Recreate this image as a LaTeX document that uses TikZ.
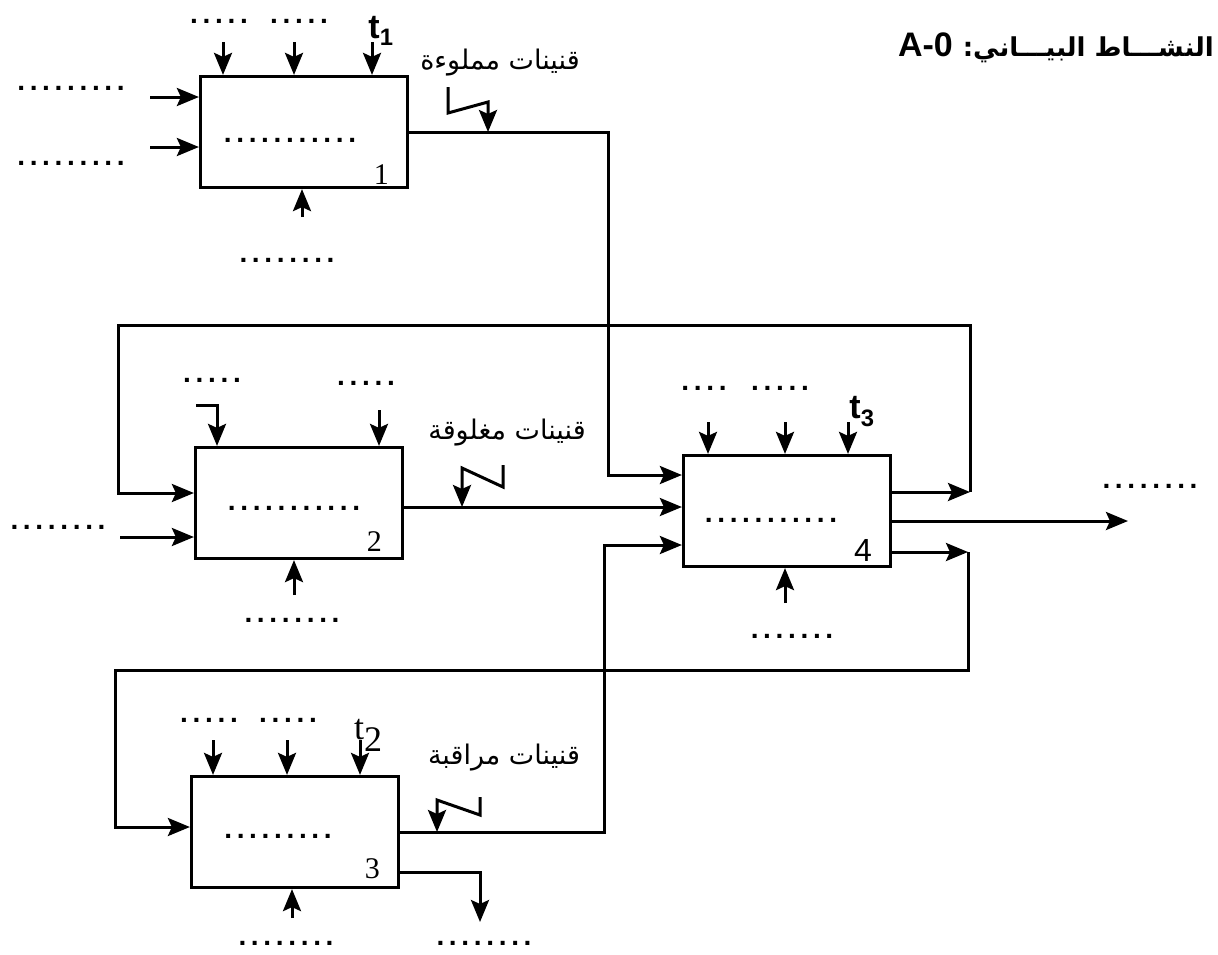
\documentclass[tikz,border=0pt]{standalone}
\usepackage{fontspec}
\setmainfont{Liberation Serif}
\newfontfamily\arabicfont[Script=Arabic]{DejaVu Sans}
\newfontfamily\latinsans{Liberation Sans}
\TeXXeTstate=1
\usetikzlibrary{positioning,arrows.meta,calc}

\begin{document}
\begin{tikzpicture}[
  x=1pt, y=-1pt,
  box/.style={draw, line width=3.2pt, minimum width=207pt, minimum height=111pt, inner sep=0pt},
  arr/.style={line width=3pt, -{Stealth[length=22pt,width=18pt,inset=4pt]}},
  dotlbl/.style={font=\latinsans\bfseries\fontsize{28}{28}\selectfont, inner sep=0pt, anchor=base},
  num/.style={font=\fontsize{30}{30}\selectfont, inner sep=0pt},
  tlbl/.style={font=\latinsans\bfseries\fontsize{34}{34}\selectfont, inner sep=0pt},
  arlbl/.style={font=\arabicfont\fontsize{27}{27}\selectfont, inner sep=0pt},
]
\useasboundingbox (0,0) rectangle (1218,954);

% ================= title =================
\node[anchor=east, inner sep=0pt] (title) at (1214,48)
     {{\latinsans\bfseries\fontsize{34}{34}\selectfont A-0}\hspace{10pt}%
      {\arabicfont\bfseries\fontsize{26}{26}\selectfont\beginR النشـــاط البيـــاني:\endR}};

% ================= boxes =================
\node[box] (b1) at (304,132) {};
\node[box] (b2) at (299,503) {};
\node[box] (b4) at (787,511) {};
\node[box] (b3) at (295,832) {};

% ================= box 1 =================
\node[dotlbl] (c1) at (290,142) {.\,.\,.\,.\,.\,.\,.\,.\,.\,.\,.};
\node[num, anchor=south east] (n1) at ([xshift=-20pt,yshift=4pt]b1.south east) {1};
\node[dotlbl] (d1a) at (219,23) {.\,.\,.\,.\,.};
\node[dotlbl] (d1b) at (299,23) {.\,.\,.\,.\,.};
\node[tlbl] (t1) at (381,31) {t\textsubscript{1}};
\node[dotlbl] (in1a) at (71,90) {.\,.\,.\,.\,.\,.\,.\,.\,.};
\node[dotlbl] (in1b) at (71,165) {.\,.\,.\,.\,.\,.\,.\,.\,.};
\node[dotlbl] (m1) at (287,262) {.\,.\,.\,.\,.\,.\,.\,.};
\node[arlbl] (lab1) at (500,63) {\beginR قنينات مملوءة\endR};
\foreach \x [count=\i] in {223,294,372} {
  \coordinate (k1\i) at (\x,42);
  \draw[arr] (k1\i) -- (k1\i |- b1.north);
}
\coordinate (e1a) at (150,97);
\coordinate (e1b) at (150,147);
\draw[arr] (e1a) -- (e1a -| b1.west);
\draw[arr] (e1b) -- (e1b -| b1.west);
\coordinate (u1) at (302,217);
\draw[arr] (u1) -- (u1 |- b1.south);

% ================= box 2 =================
\node[dotlbl] (c2) at (294,510) {.\,.\,.\,.\,.\,.\,.\,.\,.\,.\,.};
\node[num, anchor=south east] (n2) at ([xshift=-22pt,yshift=8pt]b2.south east) {2};
\node[dotlbl] (d2a) at (212,382) {.\,.\,.\,.\,.};
\node[dotlbl] (d2b) at (366,385) {.\,.\,.\,.\,.};
\node[dotlbl] (in2) at (58,529) {.\,.\,.\,.\,.\,.\,.\,.};
\node[dotlbl] (m2) at (292,622) {.\,.\,.\,.\,.\,.\,.\,.};
\node[arlbl] (lab2) at (507,433) {\beginR قنينات مغلوقة\endR};
\coordinate (k21) at (196,405);
\coordinate (k22) at (379,410);
\draw[arr] (k21) -- ++(21,0) coordinate (k21b) -- (k21b |- b2.north);
\draw[arr] (k22) -- (k22 |- b2.north);
\coordinate (e2) at (120,537);
\draw[arr] (e2) -- (e2 -| b2.west);
\coordinate (u2) at (294,595);
\draw[arr] (u2) -- (u2 |- b2.south);

% ================= box 4 =================
\node[dotlbl] (c4) at (771,522) {.\,.\,.\,.\,.\,.\,.\,.\,.\,.\,.};
\node[num, font=\latinsans\fontsize{32}{32}\selectfont, anchor=south east] (n4)
     at ([xshift=-20pt,yshift=6pt]b4.south east) {4};
\node[dotlbl] (d4a) at (704,390) {.\,.\,.\,.};
\node[dotlbl] (d4b) at (780,390) {.\,.\,.\,.\,.};
\node[tlbl] (t3) at (862,412) {t\textsubscript{3}};
\node[dotlbl] (m4) at (792,638) {.\,.\,.\,.\,.\,.\,.};
\node[dotlbl] (out4) at (1150,488) {.\,.\,.\,.\,.\,.\,.\,.};
\foreach \x [count=\i] in {708,785,848} {
  \coordinate (k4\i) at (\x,422);
  \draw[arr] (k4\i) -- (k4\i |- b4.north);
}
\coordinate (u4) at (785,603);
\draw[arr] (u4) -- (u4 |- b4.south);
\coordinate (o4) at (1128,521);
\draw[arr] ([yshift=-10pt]b4.east) -- (o4);

% ================= box 3 =================
\node[dotlbl] (c3) at (278,838) {.\,.\,.\,.\,.\,.\,.\,.\,.};
\node[num, anchor=south east] (n3) at ([xshift=-20pt,yshift=10pt]b3.south east) {3};
\node[dotlbl] (d3a) at (209,722) {.\,.\,.\,.\,.};
\node[dotlbl] (d3b) at (288,722) {.\,.\,.\,.\,.};
\node[font=\fontsize{36}{36}\selectfont, inner sep=0pt] (t2) at (368,735)
     {t\raisebox{-12pt}{2}};
\node[dotlbl] (m3) at (286,945) {.\,.\,.\,.\,.\,.\,.\,.};
\node[dotlbl] (o3d) at (484,945) {.\,.\,.\,.\,.\,.\,.\,.};
\node[arlbl] (lab3) at (504,758) {\beginR قنينات مراقبة\endR};
\foreach \x [count=\i] in {213,287,360} {
  \coordinate (k3\i) at (\x,740);
  \draw[arr] (k3\i) -- (k3\i |- b3.north);
}
\coordinate (u3) at (292,918);
\draw[arr] (u3) -- (u3 |- b3.south);
\coordinate (o3) at (480,922);
\draw[arr] ([yshift=-40pt]b3.east) -| (o3);

% ================= flows into box 4 =================
\coordinate (j1) at (608,475);
\coordinate (j3) at (604,545);
\draw[arr] (b1.east) -| (j1) -- (j1 -| b4.west);
\draw[arr] ([yshift=-4pt]b2.east) -- ([yshift=-4pt]b2.east -| b4.west);
\draw[arr] (b3.east) -| (j3) -- (j3 -| b4.west);

% bottle symbols on the flows
\coordinate (z1) at (448,87);
\coordinate (z2) at (503,465);
\coordinate (z3) at (480,797);
\draw[arr] (z1) -- ++(0,26) -- ++(40,-11) -- ++(0,30);
\draw[arr] (z2) -- ++(0,22) -- ++(-41,-19) -- ++(0,39);
\draw[arr] (z3) -- ++(0,18) -- ++(-43,-15) -- ++(0,32);

% ================= feedback loops =================
\coordinate (l1) at (970,492);
\coordinate (lt) at (118,325);
\draw[arr] ([yshift=19pt]b4.east) -- (l1);
\draw[arr] (l1) -- (l1 |- lt) -- (lt) |- ([yshift=10pt]b2.west);
\coordinate (l2) at (968,552);
\coordinate (lb) at (115,670);
\draw[arr] ([yshift=-41pt]b4.east) -- (l2);
\draw[arr] (l2) -- (l2 |- lb) -- (lb) |- ([yshift=5pt]b3.west);
\end{tikzpicture}
\end{document}
